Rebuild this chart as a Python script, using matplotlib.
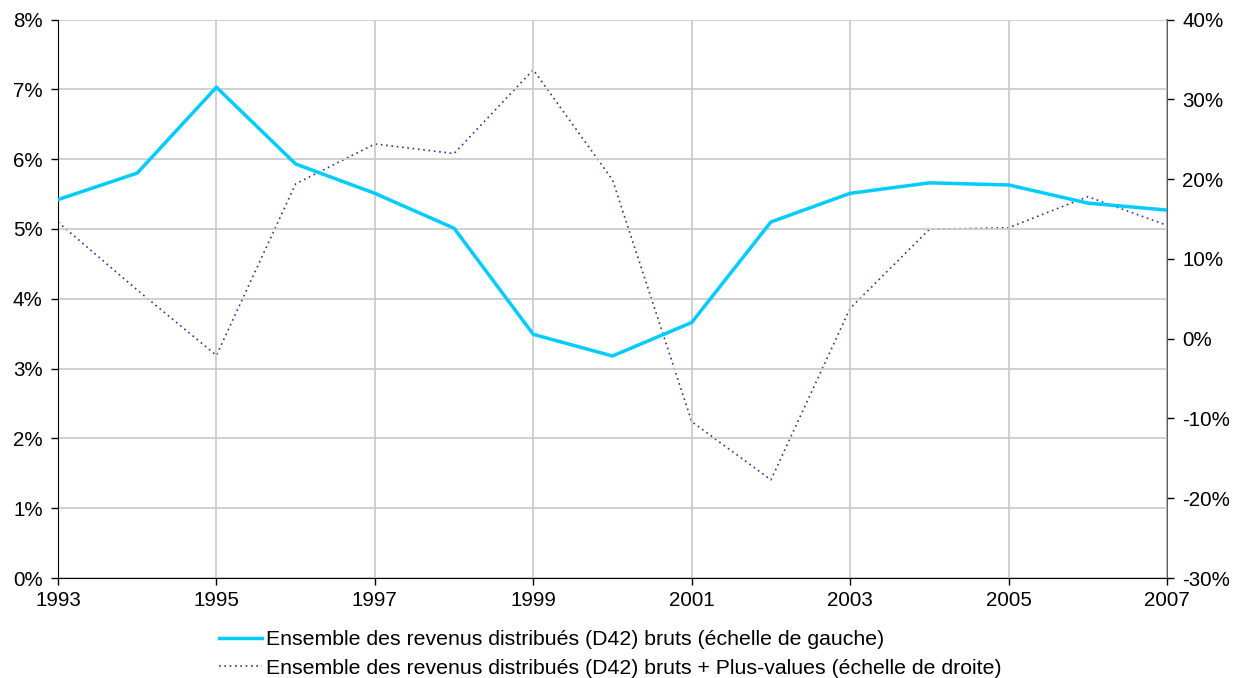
import matplotlib
matplotlib.use("Agg")
import matplotlib.pyplot as plt
from matplotlib.ticker import FuncFormatter

plt.rcParams['font.family'] = ['Liberation Sans', 'DejaVu Sans']

years = list(range(1993, 2008))
revenus = [5.42, 5.80, 7.03, 5.93, 5.51, 5.01, 3.49, 3.18, 3.66, 5.10, 5.51, 5.66, 5.63, 5.37, 5.27]
revenus_pv = [14.6, 6.1, -2.1, 19.4, 24.4, 23.2, 33.7, 19.9, -10.4, -17.7, 3.8, 13.7, 13.9, 17.8, 14.2]
label_left = "Ensemble des revenus distribués (D42) bruts (échelle de gauche)"
label_right = "Ensemble des revenus distribués (D42) bruts + Plus-values (échelle de droite)"

fig = plt.figure(figsize=(12.42, 6.78), dpi=100)
ax = fig.add_axes([58/1242, 1-578/678, (1167-58)/1242, (578-19.5)/678])
ax2 = ax.twinx()

grid_c = '#c8c8c8'
ax.set_xlim(1993, 2007)
ax.set_ylim(0, 8)
ax.set_yticks(range(0, 9))
ax.set_xticks(range(1993, 2008, 2))
ax.grid(True, color=grid_c, linewidth=1.2)
ax.set_axisbelow(True)
ax.yaxis.set_major_formatter(FuncFormatter(lambda v, p: f"{int(v)}%"))

ax2.set_ylim(-30, 40)
ax2.set_yticks(range(-30, 41, 10))
ax2.yaxis.set_major_formatter(FuncFormatter(lambda v, p: f"{int(v)}%"))

l2, = ax2.plot(years, revenus_pv, color='#333399', linewidth=1.2, linestyle=(0, (1, 2.2)), label=label_right)
l1, = ax.plot(years, revenus, color='#00CCFF', linewidth=2.5, label=label_left, zorder=5)
ax.set_zorder(ax2.get_zorder() + 1)
ax.patch.set_visible(False)

for a in (ax, ax2):
    a.spines['top'].set_visible(False)
    a.tick_params(labelsize=14.8, length=5, width=1, colors='black')
ax.spines['left'].set_color('black')
ax.spines['bottom'].set_color('black')
ax.spines['right'].set_visible(False)
ax2.spines['left'].set_visible(False)
ax2.spines['bottom'].set_visible(False)
ax2.spines['right'].set_color('#404040')
ax2.spines['right'].set_linewidth(1.2)
ax.tick_params(axis='y', pad=6)
ax2.tick_params(axis='y', pad=6)
ax.tick_params(axis='x', pad=4)

fig.legend(handles=[l1, l2], loc='upper left', bbox_to_anchor=(219/1242, 1-630/678),
           frameon=False, fontsize=15.3, handlelength=2.0, handletextpad=0.2,
           labelspacing=0.45, borderaxespad=0, borderpad=0)

fig.savefig('out.png', dpi=100)
